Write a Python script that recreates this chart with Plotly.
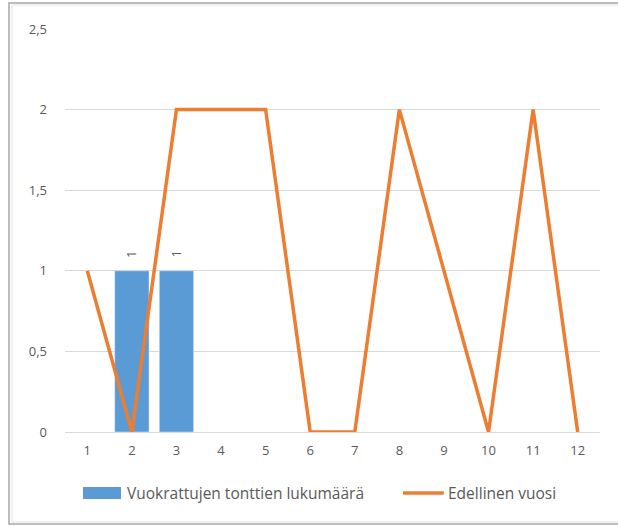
import plotly.graph_objects as go

months = [1, 2, 3, 4, 5, 6, 7, 8, 9, 10, 11, 12]
rented = [None, 1, 1, None, None, None, None, None, None, None, None, None]
previous = [1, 0, 2, 2, 2, 0, 0, 2, 1, 0, 2, 0]
y_ticks = [0, 0.5, 1, 1.5, 2, 2.5]
y_tick_labels = ["0", "0,5", "1", "1,5", "2", "2,5"]
series_names = ["Vuokrattujen tonttien lukumäärä", "Edellinen vuosi"]
bar_color = "#5B9BD5"
line_color = "#ED7D31"

fig = go.Figure()
fig.add_trace(go.Bar(
    x=months, y=rented, name=series_names[0],
    marker=dict(color=bar_color),
    showlegend=False,
))
fig.add_trace(go.Scatter(
    x=months, y=previous, name=series_names[1], mode="lines",
    line=dict(color=line_color, width=3.5),
    showlegend=False,
))

annotations = []
for m, v in zip(months, rented):
    if v is not None:
        annotations.append(dict(x=m, y=v, xref="x", yref="y", text=str(v),
                                showarrow=False, textangle=-90, yanchor="middle",
                                yshift=17, font=dict(color="#595959", size=12,
                                                     family="Open Sans, sans-serif")))

# custom legend
annotations.append(dict(x=0.1120, y=-0.1514, xref="paper", yref="paper",
                        text=series_names[0], showarrow=False, xanchor="left",
                        yanchor="middle", font=dict(size=15.5, color="#595959")))
annotations.append(dict(x=0.7130, y=-0.1514, xref="paper", yref="paper",
                        text=series_names[1], showarrow=False, xanchor="left",
                        yanchor="middle", font=dict(size=15.5, color="#595959")))

fig.update_layout(
    width=618, height=526,
    margin=dict(l=65, r=18, t=29, b=94),
    paper_bgcolor="white", plot_bgcolor="white",
    font=dict(family="Open Sans, sans-serif", size=13, color="#595959"),
    bargap=0.23,
    showlegend=False,
    annotations=annotations,
    xaxis=dict(range=[0.5, 12.5], tickmode="array", tickvals=months,
               ticktext=[str(m) for m in months], showgrid=False, zeroline=False,
               showline=False, ticks="", ticklen=0, tickfont=dict(size=13),
               ticklabelstandoff=9),
    yaxis=dict(range=[0, 2.5], tickmode="array", tickvals=y_ticks,
               ticktext=y_tick_labels, showgrid=True, gridcolor="#D9D9D9",
               gridwidth=1, zeroline=True, zerolinecolor="#D9D9D9", zerolinewidth=1,
               showline=False, ticks="", tickfont=dict(size=13), ticklabelstandoff=17),
    shapes=[
        dict(type="rect", xref="paper", yref="paper", x0=-0.1047, x1=1.06,
             y0=-0.2283, y1=1.0645, line=dict(color="#A6A6A6", width=1.5),
             fillcolor="rgba(0,0,0,0)", layer="above"),
        dict(type="rect", xref="paper", yref="paper", x0=-0.0991, x1=1.06,
             y0=-0.2233, y1=1.0595, line=dict(color="#E3E3E3", width=1),
             fillcolor="rgba(0,0,0,0)", layer="above"),
        dict(type="rect", xref="paper", yref="paper", x0=0.0336, x1=0.1047,
             y0=-0.1663, y1=-0.1365, fillcolor=bar_color, line=dict(width=0)),
        dict(type="line", xref="paper", yref="paper", x0=0.6318, x1=0.7080,
             y0=-0.1514, y1=-0.1514, line=dict(color=line_color, width=3.5)),
    ],
)

fig.write_html("out.html", config={"displayModeBar": False},
               post_script="document.body.style.margin='0';")
